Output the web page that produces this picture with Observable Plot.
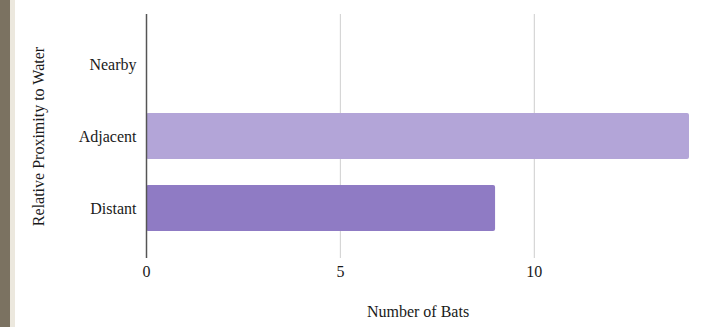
<!DOCTYPE html>
<html>
<head>
<meta charset="utf-8">
<script src="https://cdn.jsdelivr.net/npm/d3@7"></script>
<script src="https://cdn.jsdelivr.net/npm/@observablehq/plot@0.6"></script>
<style>
  html, body { margin: 0; padding: 0; background: #fff; }
  #wrap { position: relative; width: 708px; height: 327px; overflow: hidden; }
  #strip1 { position: absolute; left: 0; top: 0; width: 10px; height: 327px; background: #7b7261; }
  #strip2 { position: absolute; left: 10px; top: 0; width: 5px; height: 327px; background: #ece8de; }
  #chart { position: absolute; left: 0; top: 0; }
</style>
</head>
<body>
<div id="wrap">
  <div id="strip1"></div>
  <div id="strip2"></div>
  <div id="chart"></div>
</div>
<script>
const categories = ["Nearby", "Adjacent", "Distant"];
const values = [0, 14, 9];
const colors = ["#c9bfe6", "#b3a5d8", "#8f7bc4"];
const xTicks = [0, 5, 10];
const gridTicks = [5, 10];

const data = categories.map((c, i) => ({category: c, value: values[i]}));
const serif = "Liberation Serif";

const chart = Plot.plot({
  width: 708,
  height: 327,
  marginLeft: 146,
  marginRight: 19,
  marginTop: 14,
  marginBottom: 69,
  style: {fontSize: "16px", color: "#1a1a1a", background: "transparent"},
  x: {domain: [0, 14]},
  y: {domain: categories, paddingInner: 0.36, paddingOuter: 0.18, insetTop: 14, insetBottom: 14},
  color: {domain: categories, range: colors},
  marks: [
    Plot.ruleX(gridTicks, {stroke: "#d6d6d6", strokeWidth: 1.2}),
    Plot.barX(data, {x: "value", y: "category", fill: "category", rx: 2}),
    Plot.ruleX([0], {stroke: "#555", strokeWidth: 1.5}),
    Plot.axisX({ticks: xTicks, tickSize: 0, tickPadding: 7, tickFormat: d => d, label: "Number of Bats", labelAnchor: "center", labelArrow: false, labelOffset: 58, fontSize: 16}),
    Plot.axisY({tickSize: 0, tickPadding: 10, label: "Relative Proximity to Water", labelAnchor: "center", labelArrow: false, labelOffset: 114, fontSize: 16})
  ]
});
chart.setAttribute("font-family", serif);
chart.querySelectorAll("g, text").forEach(el => el.setAttribute("font-family", serif));
document.getElementById("chart").appendChild(chart);
</script>
</body>
</html>
